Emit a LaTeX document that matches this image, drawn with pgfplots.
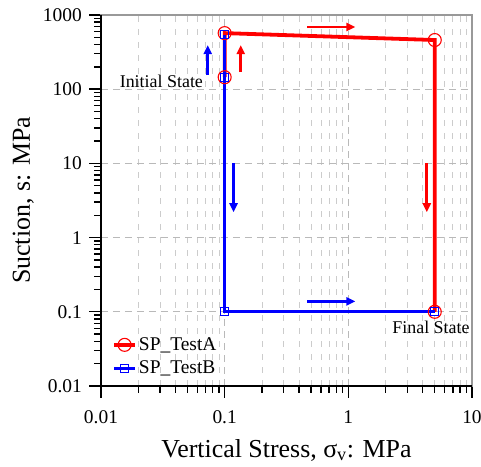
\documentclass[border=0pt]{standalone}
\usepackage{pgfplots}
\pgfplotsset{compat=1.18}
\usepackage{fontspec}
\setmainfont{Liberation Serif}
\usetikzlibrary{arrows.meta}
\begin{document}
\begin{tikzpicture}
\begin{axis}[
  name=ax,
  scale only axis, width=371bp, height=371bp,
  xmode=log, ymode=log,
  xmin=0.01, xmax=10, ymin=0.01, ymax=1000,
  xtick={0.01,0.1,1,10}, xticklabels={0.01,0.1,1,10},
  ytick={0.01,0.1,1,10,100,1000}, yticklabels={0.01,0.1,1,10,100,1000},
  minor xtick={0.02,0.03,0.04,0.05,0.06,0.07,0.08,0.09,0.2,0.3,0.4,0.5,0.6,0.7,0.8,0.9,2,3,4,5,6,7,8,9},
  minor ytick={0.02,0.03,0.04,0.05,0.06,0.07,0.08,0.09,0.2,0.3,0.4,0.5,0.6,0.7,0.8,0.9,2,3,4,5,6,7,8,9,20,30,40,50,60,70,80,90,200,300,400,500,600,700,800,900},
  xtick pos=bottom, ytick pos=left, tick align=outside,
  major tick length=12bp, minor tick length=7bp,
  every tick/.style={black, line width=1.4bp},
  axis line style={draw=gray!80, line width=1.2bp},
  xmajorgrids, xminorgrids, ymajorgrids,
  major grid style={gray!55, line width=0.8bp, dash pattern=on 7bp off 5bp},
  minor grid style={gray!40, line width=0.7bp, dash pattern=on 6bp off 7bp},
  ticklabel style={font=\fontsize{19.5}{24}\selectfont},
  yticklabel style={inner sep=0pt, anchor=east, xshift=-7bp},
  xticklabel style={inner sep=0pt, anchor=north, yshift=-12bp},
  xlabel={Vertical Stress, σ\textsubscript{v}: MPa},
  ylabel={Suction, s: MPa},
  label style={font=\fontsize{26}{30}\selectfont},
  xlabel style={at={(axis description cs:0.5,0)}, anchor=north, inner sep=0pt, yshift=-53bp},
  ylabel style={at={(axis description cs:0,0.5)}, anchor=south, inner sep=0pt, yshift=67bp},
  legend style={at={(axis description cs:0.027,0.02)}, anchor=south west, draw=none, fill=none,
    font=\fontsize{19.5}{22}\selectfont, row sep=5bp, inner sep=1bp},
  legend image code/.code={\draw[mark repeat=2,mark phase=2] plot coordinates {(0bp,0bp) (10.5bp,0bp) (21bp,0bp)};},
  legend cell align=left,
  clip=false,
]
\addplot[red, line width=3.8bp, mark=o, mark size=6.5bp, mark options={line width=1.1bp, fill=none, solid}]
  coordinates {(0.1,145) (0.1,570) (5,460) (5,0.1)};
\addlegendentry{SP\_TestA}
\addplot[blue, line width=2.6bp, mark=square, mark size=4bp, mark options={line width=1.2bp, fill=none, solid}]
  coordinates {(0.1,540) (0.1,145) (0.1,0.1) (5,0.1)};
\addlegendentry{SP\_TestB}

% frame: black left and bottom
\draw[black, line width=2.4bp] (rel axis cs:0,1) -- (rel axis cs:0,0) -- (rel axis cs:1,0);

% arrows
\draw[blue, line width=2.6bp, -{Triangle[length=9bp,width=8bp]}] (axis cs:0.073,155) -- (axis cs:0.073,393);
\draw[red, line width=2.6bp, -{Triangle[length=9bp,width=8bp]}] (axis cs:0.135,170) -- (axis cs:0.135,393);
\draw[red, line width=2.6bp, -{Triangle[length=9bp,width=8bp]}] (axis cs:0.464,690) -- (axis cs:1.14,690);
\draw[blue, line width=2.6bp, -{Triangle[length=9bp,width=8bp]}] (axis cs:0.118,10) -- (axis cs:0.118,2.2);
\draw[red, line width=2.6bp, -{Triangle[length=9bp,width=8bp]}] (axis cs:4.31,10) -- (axis cs:4.31,2.2);
\draw[blue, line width=2.6bp, -{Triangle[length=9bp,width=8bp]}] (axis cs:0.464,0.138) -- (axis cs:1.14,0.138);

\node[anchor=east, font=\fontsize{18}{20}\selectfont, inner sep=0pt] at (axis cs:0.067,128) {Initial State};
\node[anchor=north, font=\fontsize{18}{20}\selectfont, inner sep=0pt] at (axis cs:4.66,0.0755) {Final State};
\end{axis}
\pgfresetboundingbox
\path ([xshift=-101bp,yshift=-81bp]ax.south west) rectangle ([xshift=9bp,yshift=15bp]ax.north east);
\end{tikzpicture}
\end{document}
